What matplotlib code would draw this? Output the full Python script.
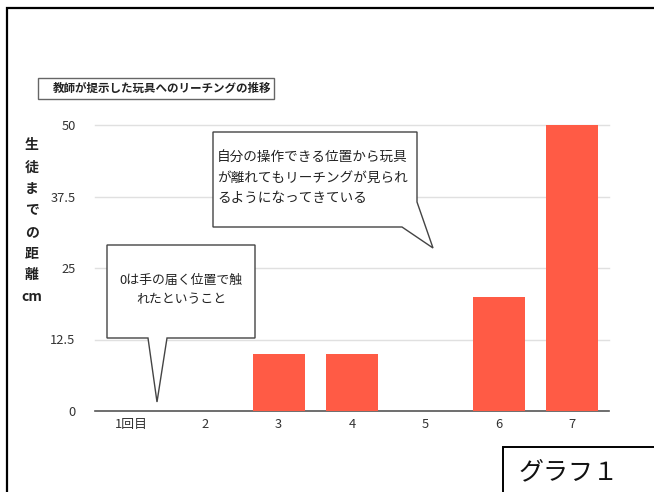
import numpy as np
import matplotlib
matplotlib.use('Agg')
import matplotlib.pyplot as plt
from matplotlib.patches import Rectangle, Polygon

plt.rcParams['font.family'] = ['Noto Sans CJK JP', 'DejaVu Sans']

# data
categories = ['1回目', '2', '3', '4', '5', '6', '7']
distance_cm = [0, 0, 10, 10, 0, 20, 50]
y_ticks = [0, 12.5, 25, 37.5, 50]
y_tick_labels = ['0', '12.5', '25', '37.5', '50']
title_text = '教師が提示した玩具へのリーチングの推移'
ylabel_chars = ['生', '徒', 'ま', 'で', 'の', '距', '離', 'cm']
note1 = '0は手の届く位置で触\nれたということ'
note2 = '自分の操作できる位置から玩具\nが離れてもリーチングが見られ\nるようになってきている'
graph_label = 'グラフ１'

W, H = 654, 492
fig = plt.figure(figsize=(W / 100, H / 100), dpi=100)
fig.patch.set_facecolor('white')


def fx(px):
    return px / W


def fy(py):
    return 1 - py / H


# outer frame
fig.patches.append(Rectangle((fx(7), fy(700)), fx(700), fy(8) - fy(700), transform=fig.transFigure,
                             fill=False, edgecolor='black', linewidth=1.6))

# main axes
ax = fig.add_axes([fx(95), fy(411), fx(609) - fx(95), fy(125) - fy(411)])
x = np.arange(len(categories))
ax.bar(x, distance_cm, width=0.71, color='#ff5b45', zorder=3)
ax.set_xlim(-0.5, 6.5)
ax.set_ylim(0, 50)
ax.set_yticks(y_ticks)
ax.set_yticklabels(y_tick_labels)
ax.set_xticks(x)
ax.set_xticklabels(categories)
for yt in y_ticks[1:]:
    ax.axhline(yt, color='#e0e0e0', linewidth=1.0, zorder=1, clip_on=False)
for s in ['top', 'right', 'left']:
    ax.spines[s].set_visible(False)
ax.spines['bottom'].set_color('#555555')
ax.spines['bottom'].set_linewidth(1.2)
ax.tick_params(axis='both', length=0, labelsize=9.3, labelcolor='#333333')
ax.tick_params(axis='y', pad=14)
ax.tick_params(axis='x', pad=5)
ax.set_facecolor('none')

# title box
fig.text(fx(53), fy(88), title_text, fontsize=8.3, fontweight='bold', color='#222222',
         ha='left', va='center')
fig.patches.append(Rectangle((fx(38), fy(99)), fx(274) - fx(38), fy(78) - fy(99), transform=fig.transFigure,
                             fill=False, edgecolor='#666666', linewidth=1.0))

# vertical y label
ys = [145, 168, 189, 210, 232, 254, 275, 297]
for ch, yy in zip(ylabel_chars, ys):
    fig.text(fx(32), fy(yy), ch, fontsize=10, fontweight='bold', color='#222222',
             ha='center', va='center')

# callout 1
c1 = [(107, 245), (255, 245), (255, 338), (167, 338), (157, 402), (148, 338), (107, 338)]
fig.patches.append(Polygon([(fx(a), fy(b)) for a, b in c1], closed=True, transform=fig.transFigure,
                           facecolor='white', edgecolor='#444444', linewidth=1.0, zorder=5))
fig.text(fx(181), fy(290), note1, fontsize=9.3, color='#222222', ha='center', va='center',
         linespacing=1.65, zorder=6)

# callout 2
c2 = [(213, 132), (417, 132), (417, 202), (433, 248), (402, 227), (213, 227)]
fig.patches.append(Polygon([(fx(a), fy(b)) for a, b in c2], closed=True, transform=fig.transFigure,
                           facecolor='white', edgecolor='#444444', linewidth=1.0, zorder=5))
fig.text(fx(217), fy(178), note2, fontsize=9.8, color='#222222', ha='left', va='center',
         linespacing=1.55, zorder=6)

# graph label box
fig.patches.append(Rectangle((fx(503), fy(700)), fx(700), fy(447) - fy(700), transform=fig.transFigure,
                             facecolor='white', edgecolor='black', linewidth=1.4, zorder=5))
fig.text(fx(519), fy(472), graph_label, fontsize=18, color='#111111', ha='left', va='center', zorder=6)

fig.savefig('out.png', dpi=100)
